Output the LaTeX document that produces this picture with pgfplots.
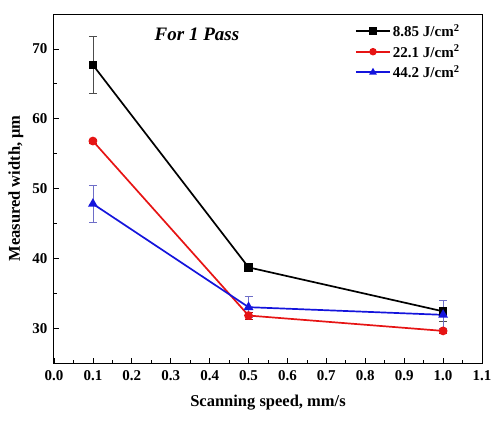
\documentclass[border=0pt]{standalone}
\usepackage{pgfplots}
\pgfplotsset{compat=1.18}
\usepackage{fontspec}
\setmainfont{Liberation Serif}
\definecolor{myred}{RGB}{230,20,20}
\definecolor{myblue}{RGB}{20,20,220}
\definecolor{errblue}{RGB}{110,110,200}
\begin{document}
\begin{tikzpicture}
\begin{axis}[
  name=ax,
  scale only axis,
  width=428pt, height=349pt,
  xmin=0, xmax=1.1, ymin=25, ymax=75,
  xtick={0,0.1,0.2,0.3,0.4,0.5,0.6,0.7,0.8,0.9,1.0,1.1},
  xticklabels={0.0,0.1,0.2,0.3,0.4,0.5,0.6,0.7,0.8,0.9,1.0,1.1},
  ytick={30,40,50,60,70},
  yticklabels={30,40,50,60,70},
  minor x tick num=1, minor y tick num=1,
  tick align=inside,
  xtick pos=bottom, ytick pos=left,
  major tick length=5pt, minor tick length=3pt,
  tick style={black, line width=0.8pt},
  axis line style={line width=1pt},
  xticklabel style={font=\fontsize{15}{17}\selectfont\bfseries, yshift=-4pt},
  yticklabel style={font=\fontsize{15}{17}\selectfont\bfseries, xshift=-3pt},
  xlabel={\bfseries Scanning speed, mm/s},
  ylabel={\bfseries Measured width, μm},
  label style={font=\fontsize{16.5}{18}\selectfont},
  xlabel style={at={(rel axis cs:0.5,0)}, anchor=center, yshift=-40pt},
  ylabel style={at={(rel axis cs:0,0.5)}, anchor=center, yshift=38pt},
  legend style={draw=none, fill=none, at={(rel axis cs:0.955,0.98)}, anchor=north east, font=\fontsize{15}{17}\selectfont\bfseries, row sep=3pt, inner sep=1pt},
  legend cell align=left,
  legend image code/.code={\draw[#1, line width=1.8pt, mark size=2.8pt] plot coordinates {(0cm,0cm) (0.6cm,0cm) (1.2cm,0cm)};},
  legend image post style={mark indices={2}},
  every axis plot/.append style={line width=1.7pt},
]
\addplot[black, mark=square*, mark size=3.5pt, error bars/.cd, y dir=both, y explicit, error bar style={line width=0.8pt, black!70}, error mark options={rotate=90, mark size=4pt, line width=0.8pt, black!70}]
  coordinates {(0.1,67.7) +- (0,4.1) (0.5,38.7) +- (0,0.6) (1.0,32.4) +- (0,1.5)};
\addlegendentry{8.85 J/cm$^{\mathbf 2}$}
\addplot[myred, mark=*, mark size=3.5pt, error bars/.cd, y dir=both, y explicit, error bar style={line width=0.8pt, myred!80!black}, error mark options={rotate=90, mark size=4pt, line width=0.8pt, myred!80!black}]
  coordinates {(0.1,56.8) +- (0,0.3) (0.5,31.8) +- (0,0.5) (1.0,29.6) +- (0,0.3)};
\addlegendentry{22.1 J/cm$^{\mathbf 2}$}
\addplot[myblue, mark=triangle*, mark size=4pt, error bars/.cd, y dir=both, y explicit, error bar style={line width=0.8pt, errblue}, error mark options={rotate=90, mark size=4pt, line width=0.8pt, errblue}]
  coordinates {(0.1,47.8) +- (0,2.7) (0.5,33.0) +- (0,1.5) (1.0,31.9) +- (0,2.0)};
\addlegendentry{44.2 J/cm$^{\mathbf 2}$}
\node[font=\fontsize{19}{21}\selectfont\bfseries\itshape, anchor=center] at (rel axis cs:0.334,0.943) {For 1 Pass};
\end{axis}
\pgfresetboundingbox
\path[use as bounding box] ([xshift=-54pt,yshift=-58pt]ax.south west) rectangle ([xshift=20pt,yshift=14pt]ax.north east);
\end{tikzpicture}
\end{document}
